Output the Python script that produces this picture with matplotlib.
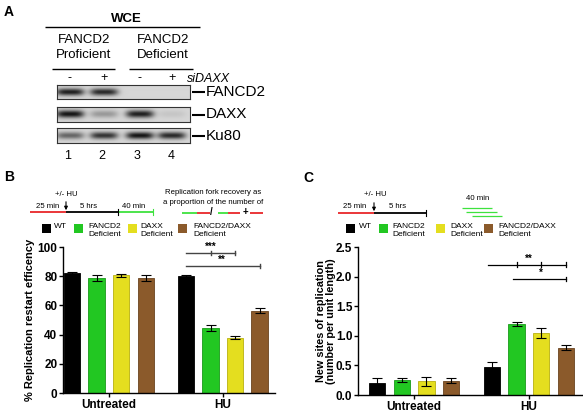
import numpy as np
import matplotlib.pyplot as plt
from matplotlib.patches import Rectangle

plt.rcParams['font.family'] = ['Liberation Sans', 'DejaVu Sans']

# data
groups = ['Untreated', 'HU']
genotypes = ['WT', 'FANCD2\nDeficient', 'DAXX\nDeficient', 'FANCD2/DAXX\nDeficient']
colors = ['#000000', '#22c722', '#e4de1f', '#8b5a2b']
edges = ['#000000', '#1a9a1a', '#b8b010', '#6a431f']

restart_mean = [[82, 79, 80.5, 79], [80, 44.8, 38, 56.5]]
restart_err = [[0.7, 2.0, 1.0, 2.0], [0.8, 2.0, 1.0, 1.8]]

newsites_mean = [[0.20, 0.25, 0.23, 0.24], [0.48, 1.20, 1.05, 0.80]]
newsites_err = [[0.08, 0.03, 0.08, 0.04], [0.08, 0.03, 0.08, 0.04]]

blot_rows = ['FANCD2', 'DAXX', 'Ku80']
blot_intensity = [[0.9, 0.85, 0.0, 0.0],
                  [0.95, 0.3, 0.9, 0.08],
                  [0.55, 0.8, 0.95, 0.85]]
lanes = ['1', '2', '3', '4']
sidaxx = ['-', '+', '-', '+']

W, H = 583, 413
fig = plt.figure(figsize=(W/100, H/100), dpi=100)

# overlay axes in pixel coordinates for text and schematics
ov = fig.add_axes([0, 0, 1, 1])
ov.set_xlim(0, W)
ov.set_ylim(H, 0)
ov.axis('off')

def hline(x0, x1, y, c='k', lw=1.0):
    ov.plot([x0, x1], [y, y], color=c, lw=lw, solid_capstyle='butt')

# ---------------- Panel A ----------------
ov.text(4, 12, 'A', fontsize=10, fontweight='bold', va='center')
ov.text(126, 19, 'WCE', fontsize=9.5, fontweight='bold', ha='center', va='center')
hline(45, 200, 27)
ov.text(84, 40, 'FANCD2', fontsize=9.5, ha='center', va='center')
ov.text(84, 55, 'Proficient', fontsize=9.5, ha='center', va='center')
ov.text(163, 40, 'FANCD2', fontsize=9.5, ha='center', va='center')
ov.text(163, 55, 'Deficient', fontsize=9.5, ha='center', va='center')
hline(52, 115, 69)
hline(129, 193, 69)
lane_x = [70, 104, 140, 172]
for x, s in zip(lane_x, sidaxx):
    ov.text(x, 78, s, fontsize=9, ha='center', va='center')
ov.text(187, 79, 'siDAXX', fontsize=9, style='italic', va='center')

box_y = [(85, 99), (107, 122), (128, 143)]
for (y0, y1), row, inten in zip(box_y, blot_rows, blot_intensity):
    bx = fig.add_axes([57/W, 1 - y1/H, 133/W, (y1 - y0)/H])
    xs = np.linspace(57, 190, 266)
    ys = np.linspace(y0, y1, 60)
    X, Y = np.meshgrid(xs, ys)
    img = np.zeros_like(X)
    yc = (y0 + y1) / 2
    for lx, a in zip(lane_x, inten):
        img += a * np.exp(-((X - lx) / 14.0) ** 4) * np.exp(-((Y - yc) / 3.6) ** 2)
    bx.imshow(0.84 - 0.8 * np.clip(img, 0, 1), cmap='gray', vmin=0, vmax=1,
              extent=[57, 190, y1, y0], aspect='auto', interpolation='bilinear')
    bx.set_xticks([])
    bx.set_yticks([])
    for sp in bx.spines.values():
        sp.set_linewidth(0.8)
        sp.set_color('#333333')
    hline(192, 205, yc, lw=1.5)
    ov.text(206, yc, row, fontsize=11, va='center')

for x, l in zip([68, 102, 137, 171], lanes):
    ov.text(x, 156, l, fontsize=9, ha='center', va='center')

# ---------------- schematics ----------------
red, green = '#e8262a', '#3ee23e'
fs_s = 5.6

# B
ov.text(4, 177, 'B', fontsize=10, fontweight='bold', va='center')
ov.text(66, 194, '+/- HU', fontsize=fs_s, ha='center', va='center')
ov.annotate('', xy=(66, 213), xytext=(66, 199),
            arrowprops=dict(arrowstyle='-|>', lw=0.8, color='k', mutation_scale=5))
hline(30, 66, 212, c=red, lw=1.3)
hline(66, 118, 212, c='k', lw=1.3)
hline(118, 153, 212, c=green, lw=1.3)
ov.plot([118, 118], [209, 215], color='k', lw=0.8)
ov.plot([153, 153], [209, 215], color=green, lw=0.8)
ov.text(48, 207, '25 min', fontsize=fs_s, ha='center', va='center')
ov.text(89, 207, '5 hrs', fontsize=fs_s, ha='center', va='center')
ov.text(134, 207, '40 min', fontsize=fs_s, ha='center', va='center')
ov.text(213, 193, 'Replication fork recovery as', fontsize=fs_s, ha='center', va='center')
ov.text(213, 203, 'a proportion of the number of', fontsize=fs_s, ha='center', va='center')
hline(182, 197, 213, c=green, lw=1.3)
hline(197, 210, 213, c=red, lw=1.3)
ov.text(211, 212, '/', fontsize=7, ha='center', va='center', fontweight='bold')
hline(218, 228, 213, c=green, lw=1.3)
hline(228, 240, 213, c=red, lw=1.3)
ov.text(245, 212, '+', fontsize=7, ha='center', va='center', fontweight='bold')
hline(250, 263, 213, c=red, lw=1.3)

# C
ov.text(303, 178, 'C', fontsize=10, fontweight='bold', va='center')
ov.text(375, 195, '+/- HU', fontsize=fs_s, ha='center', va='center')
ov.annotate('', xy=(374, 214), xytext=(374, 200),
            arrowprops=dict(arrowstyle='-|>', lw=0.8, color='k', mutation_scale=5))
hline(338, 374, 213, c=red, lw=1.3)
hline(374, 426, 213, c='k', lw=1.3)
ov.plot([426, 426], [210, 216], color='k', lw=0.8)
ov.text(355, 207, '25 min', fontsize=fs_s, ha='center', va='center')
ov.text(398, 207, '5 hrs', fontsize=fs_s, ha='center', va='center')
ov.text(478, 198, '40 min', fontsize=fs_s, ha='center', va='center')
hline(462, 492, 208, c=green, lw=0.9)
hline(466, 497, 212, c=green, lw=0.9)
hline(472, 502, 216, c=green, lw=0.9)

# legends
def legend_row(sq_x, txt_x, y):
    for sx, tx, c, lab in zip(sq_x, txt_x, colors, genotypes):
        ov.add_patch(Rectangle((sx, y - 4.5), 9, 9, facecolor=c, edgecolor='none'))
        ov.text(tx, y - 5, lab, fontsize=6, va='top', ha='left', linespacing=1.1)

legend_row([42, 74, 128, 178], [54, 88, 140, 193], 228)
legend_row([346, 379, 436, 484], [359, 392, 450, 498], 228)

# ---------------- bar charts ----------------
def bar_axes(rect, means, errs, ylim, yticks, yticklabels):
    l, r, t, b = rect
    ax = fig.add_axes([l/W, 1 - b/H, (r - l)/W, (b - t)/H])
    for g in range(2):
        for i in range(4):
            x = g * 4.65 + i
            ax.bar(x, means[g][i], width=0.66, color=colors[i], edgecolor=edges[i], linewidth=0.6, zorder=2)
            ax.errorbar(x, means[g][i], yerr=errs[g][i], color='k', capsize=3.5,
                        elinewidth=0.8, capthick=0.8, zorder=3)
    ax.set_ylim(*ylim)
    ax.set_yticks(yticks)
    ax.set_yticklabels(yticklabels, fontweight='bold', fontsize=8.5)
    ax.set_xticks([1.5, 6.15])
    ax.set_xticklabels(groups, fontweight='bold', fontsize=8.5)
    for s in ['top', 'right']:
        ax.spines[s].set_visible(False)
    for s in ['left', 'bottom']:
        ax.spines[s].set_linewidth(1.0)
    ax.tick_params(length=3, width=1.0, pad=1)
    ax.patch.set_alpha(0)
    return ax

axB = bar_axes((63, 275, 247, 393), restart_mean, restart_err, (0, 100),
               [0, 20, 40, 60, 80, 100], ['0', '20', '40', '60', '80', '100'])
axB.set_xlim(-0.37, 8.28)
axB.set_ylabel('% Replication restart efficency', fontweight='bold', fontsize=8, labelpad=2)
# significance B
c_sig = '#444444'
axB.plot([4.65, 6.65], [96, 96], color=c_sig, lw=1.0)
axB.plot([5.65, 5.65], [94.5, 97.5], color=c_sig, lw=1.0)
axB.plot([6.65, 6.65], [94.5, 97.5], color=c_sig, lw=1.0)
axB.text(5.65, 96.5, '***', ha='center', va='bottom', fontsize=7, fontweight='bold')
axB.plot([4.65, 7.65], [87, 87], color=c_sig, lw=1.0)
axB.plot([7.65, 7.65], [85.5, 88.5], color=c_sig, lw=1.0)
axB.text(6.1, 87.5, '**', ha='center', va='bottom', fontsize=7, fontweight='bold')

axC = bar_axes((358, 582, 247, 395), newsites_mean, newsites_err, (0, 2.5),
               [0, 0.5, 1.0, 1.5, 2.0, 2.5], ['0.0', '0.5', '1.0', '1.5', '2.0', '2.5'])
axC.set_xlim(-0.77, 8.3)
axC.set_ylabel('New sites of replication\n(number per unit length)', fontweight='bold',
               fontsize=7.8, labelpad=0, linespacing=1.0)
axC.plot([4.5, 7.65], [2.2, 2.2], color='k', lw=0.9)
for x in [5.65, 6.65, 7.65]:
    axC.plot([x, x], [2.16, 2.24], color='k', lw=0.9)
axC.text(6.15, 2.22, '**', ha='center', va='bottom', fontsize=7, fontweight='bold')
axC.plot([5.5, 7.65], [1.96, 1.96], color='k', lw=0.9)
axC.plot([7.65, 7.65], [1.92, 2.0], color='k', lw=0.9)
axC.text(6.65, 1.98, '*', ha='center', va='bottom', fontsize=7, fontweight='bold')

fig.savefig('out.png', dpi=100)
